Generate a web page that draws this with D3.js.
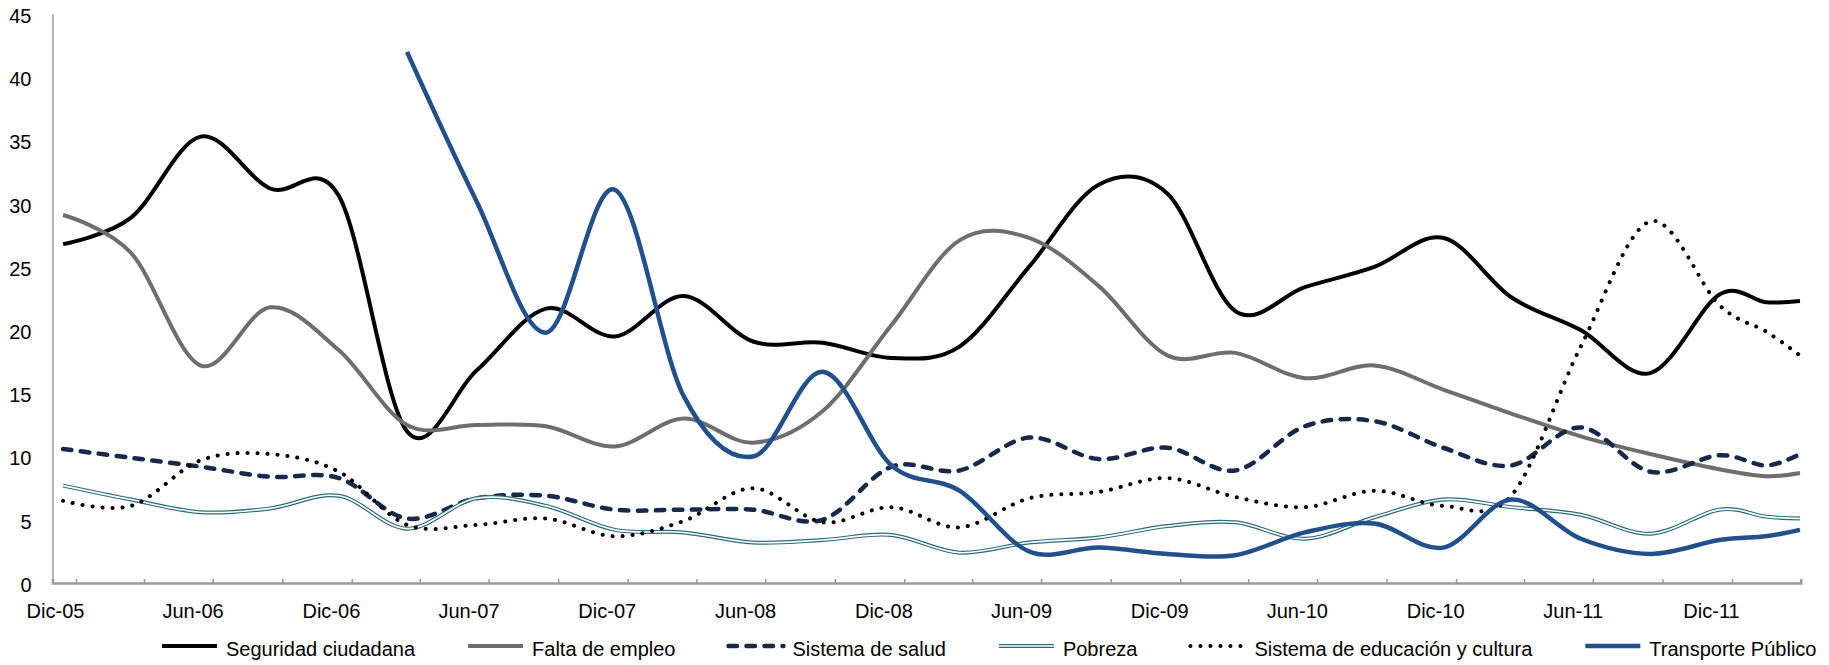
<!DOCTYPE html>
<html><head><meta charset="utf-8">
<script src="https://cdn.jsdelivr.net/npm/d3@7"></script>
<style>
body{margin:0;background:#fff}
svg{display:block}
text{font-family:"Liberation Sans",Arial,sans-serif;fill:#000}
</style>
</head><body>
<svg id="chart" width="1829" height="665"></svg>
<script>
// ---- data ----
const surveyDates = ["2005-12-15","2006-03-15","2006-06-15","2006-09-15","2006-12-15",
  "2007-03-15","2007-06-15","2007-09-15","2007-12-15","2008-03-15","2008-06-15",
  "2008-09-15","2008-12-15","2009-03-15","2009-06-15","2009-09-15","2009-12-15",
  "2010-03-15","2010-06-15","2010-09-15","2010-12-15","2011-03-15","2011-06-15",
  "2011-09-15","2011-12-15","2012-02-15","2012-03-31"];

const seguridad = [26.8,28.9,35.3,31.2,30.6,12.0,16.8,21.7,19.5,22.7,19.1,19.0,17.8,18.7,
  25.0,31.5,30.8,21.5,23.4,25.0,27.3,22.6,20.0,16.6,22.8,22.2,22.3];
const faltaEmpleo = [29.1,26.1,17.2,21.8,18.4,12.5,12.5,12.4,10.8,13.0,11.1,13.6,20.4,27.1,
  27.3,23.5,18.0,18.2,16.2,17.2,15.3,13.4,11.6,10.2,9.0,8.45,8.7];
const salud = [10.6,9.9,9.2,8.4,8.3,5.1,6.7,6.9,5.8,5.8,5.8,5.0,9.2,8.9,11.5,9.8,10.7,8.9,
  12.4,12.8,10.7,9.3,12.3,8.8,10.1,9.3,10.2];
const pobreza = [7.7,6.6,5.6,5.9,6.9,4.3,6.7,6.1,4.2,4.0,3.2,3.4,3.8,2.4,3.2,3.6,4.5,4.8,
  3.5,5.2,6.6,6.0,5.4,3.9,5.8,5.25,5.1];
const educacion = [6.5,6.1,9.7,10.2,8.8,4.6,4.6,5.1,3.7,4.9,7.5,4.8,6.0,4.4,6.7,7.2,8.3,6.8,
  6.0,7.3,6.1,6.9,18.7,28.6,22.0,19.9,18.0];
const transporte = [null,null,null,null,null,42.0,30.2,19.8,31.1,14.8,10.0,16.7,9.3,7.3,
  2.5,2.8,2.3,2.2,4.0,4.7,2.8,6.6,3.5,2.3,3.4,3.7,4.2];

const seriesNames = ["Seguridad ciudadana","Falta de empleo","Sistema de salud","Pobreza",
  "Sistema de educación y cultura","Transporte Público"];
const yTicks = [0,5,10,15,20,25,30,35,40,45];
const xLabels = ["Dic-05","Jun-06","Dic-06","Jun-07","Dic-07","Jun-08","Dic-08","Jun-09",
  "Dic-09","Jun-10","Dic-10","Jun-11","Dic-11"];
const axisStart = "2005-12-01", axisEnd = "2012-04-01";

// ---- styles ----
const styles = [
  {color:"#000000", width:4},
  {color:"#6e6e6e", width:4},
  {color:"#16294a", width:4.5, dash:"8.5,9.5"},
  {color:"#2c6b79", width:4, dbl:true},
  {color:"#000000", width:4, dash:"0.1,9.9"},
  {color:"#21508a", width:4.5}
];

const parse = d3.utcParse("%Y-%m-%d");
const dates = surveyDates.map(parse);
const allSeries = [seguridad, faltaEmpleo, salud, pobreza, educacion, transporte];

const L = 52.5, R = 1800.7, T = 14, B = 583;
const svg = d3.select("#chart");
const x = d3.scaleUtc().domain([parse(axisStart), parse(axisEnd)]).range([L, R]);
const y = d3.scaleLinear().domain([0,45]).range([B, T]);

// y axis
const ya = svg.append("g").attr("transform",`translate(${L},0)`)
  .call(d3.axisLeft(y).tickValues(yTicks).tickSize(0).tickPadding(21));
ya.select(".domain").attr("stroke","#9a9a9a").attr("stroke-width",1.5);
ya.selectAll("text").attr("font-size",20).attr("font-family","Liberation Sans, Arial, sans-serif")
  .attr("dy","0.42em").attr("fill","#000");

// x axis (quarterly tick marks)
const quarterTicks = d3.utcMonth.every(3).range(parse(axisStart), d3.utcDay.offset(parse(axisEnd),-1));
const xa = svg.append("g").attr("transform",`translate(0,${B})`)
  .call(d3.axisBottom(x).tickValues(quarterTicks).tickSize(-4).tickFormat(""));
xa.select(".domain").attr("stroke","#9a9a9a").attr("stroke-width",2.5);
xa.selectAll(".tick line").attr("stroke","#9a9a9a").attr("stroke-width",1.5);

// x labels
const mon = {Dic:11, Jun:5};
svg.append("g").selectAll("text").data(xLabels).join("text")
  .attr("x", d => x(new Date(Date.UTC(2000+ +d.slice(4), mon[d.slice(0,3)], 5))))
  .attr("y", B + 35)
  .attr("text-anchor","middle").attr("font-size",20).text(d => d);

// lines
const line = d3.line().defined(d => d[1] != null)
  .x(d => x(d[0])).y(d => y(d[1])).curve(d3.curveCardinal.tension(0));
const g = svg.append("g").attr("fill","none");
allSeries.forEach((vals, i) => {
  const pts = dates.map((d, j) => [d, vals[j]]).filter(p => p[1] != null);
  const s = styles[i];
  const p = g.append("path").attr("d", line(pts)).attr("stroke", s.color)
    .attr("stroke-width", s.width).attr("stroke-linecap", s.dash ? "round" : "butt")
    .attr("stroke-linejoin","round");
  if (s.dash) p.attr("stroke-dasharray", s.dash);
  if (s.dbl) g.append("path").attr("d", line(pts)).attr("stroke","#fff").attr("stroke-width",1.6);
});

// legend
const lg = svg.append("g");
let lx = 162; const ly = 646, lineLen = 55, txtGap = 9, itemGap = 53;
seriesNames.forEach((name, i) => {
  const s = styles[i];
  const seg = lg.append("line").attr("x1", lx).attr("x2", lx + lineLen).attr("y1", ly).attr("y2", ly)
    .attr("stroke", s.color).attr("stroke-width", s.width)
    .attr("stroke-linecap", s.dash ? "round" : "butt");
  if (s.dash) seg.attr("stroke-dasharray", s.dash);
  if (s.dbl) lg.append("line").attr("x1", lx).attr("x2", lx + lineLen).attr("y1", ly).attr("y2", ly)
    .attr("stroke","#fff").attr("stroke-width",1.6);
  const t = lg.append("text").attr("x", lx + lineLen + txtGap).attr("y", ly + 10)
    .attr("font-size",20).text(name);
  lx += lineLen + txtGap + t.node().getComputedTextLength() + itemGap;
});
</script>
</body></html>
